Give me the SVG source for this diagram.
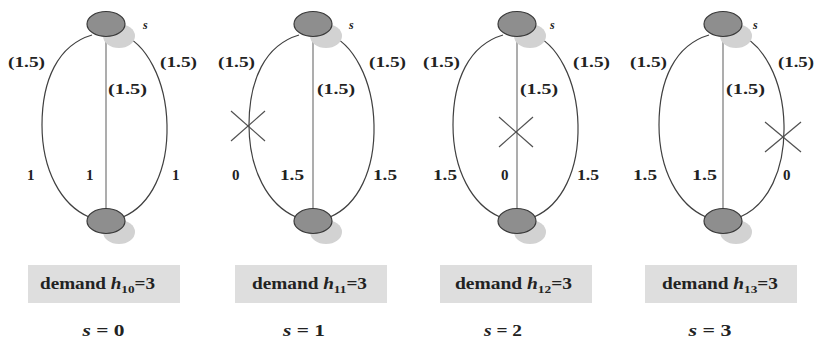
<svg xmlns="http://www.w3.org/2000/svg" width="817" height="339" viewBox="0 0 817 339">
<style>
.arc{fill:none;stroke:#404040;stroke-width:1.2}
.mid{fill:none;stroke:#8a8a8a;stroke-width:1.4}
.x{stroke:#505050;stroke-width:1.2}
.nd{fill:#8e8e8e;stroke:#3a3a3a;stroke-width:1.2}
.sh{fill:#d2d2d2}
.box{fill:#dedede}
text{font-family:"Liberation Serif","Times New Roman",Times,serif;font-weight:700;fill:#222}
.lb{font-size:15px}
.bt{font-size:16px}
.it{font-style:italic}
.sub{font-size:11px}
</style>
<defs>
<path id="larc" d="M -14,35 C -48,45 -64,80 -64,125 C -64,170 -45,205 -17,217"/>
<path id="rarc" d="M 14,34 C 40,42 60,80 61,125 C 62,170 45,205 17,217"/>
</defs>

<g id="connectors">
<g transform="translate(106,0)"><use href="#larc" class="arc"/><use href="#rarc" class="arc"/><line class="mid" x1="0" y1="36" x2="0" y2="208"/></g>
<g transform="translate(313,0)"><use href="#larc" class="arc"/><use href="#rarc" class="arc"/><line class="mid" x1="0" y1="36" x2="0" y2="208"/></g>
<g transform="translate(517,0)"><use href="#larc" class="arc"/><use href="#rarc" class="arc"/><line class="mid" x1="0" y1="36" x2="0" y2="208"/></g>
<g transform="translate(723,0)"><use href="#larc" class="arc"/><use href="#rarc" class="arc"/><line class="mid" x1="0" y1="36" x2="0" y2="208"/></g>
</g>

<g id="cuts">
<line class="x" x1="231" y1="111" x2="265" y2="141"/><line class="x" x1="231" y1="141" x2="265" y2="111"/>
<line class="x" x1="499" y1="117" x2="533" y2="147"/><line class="x" x1="499" y1="147" x2="533" y2="117"/>
<line class="x" x1="765" y1="122" x2="801" y2="152"/><line class="x" x1="765" y1="152" x2="801" y2="122"/>
</g>

<g id="shadows">
<g transform="translate(106,0)"><ellipse class="sh" cx="13" cy="36" rx="16" ry="12"/><ellipse class="sh" cx="13" cy="232" rx="16" ry="12"/></g>
<g transform="translate(313,0)"><ellipse class="sh" cx="13" cy="36" rx="16" ry="12"/><ellipse class="sh" cx="13" cy="232" rx="16" ry="12"/></g>
<g transform="translate(517,0)"><ellipse class="sh" cx="13" cy="36" rx="16" ry="12"/><ellipse class="sh" cx="13" cy="232" rx="16" ry="12"/></g>
<g transform="translate(723,0)"><ellipse class="sh" cx="13" cy="36" rx="16" ry="12"/><ellipse class="sh" cx="13" cy="232" rx="16" ry="12"/></g>
</g>

<g id="n0-top"><ellipse class="nd" cx="106" cy="24" rx="19" ry="12.5"/></g>
<g id="n0-bot"><ellipse class="nd" cx="106" cy="221" rx="19" ry="12.5"/></g>
<g id="n1-top"><ellipse class="nd" cx="313" cy="24" rx="19" ry="12.5"/></g>
<g id="n1-bot"><ellipse class="nd" cx="313" cy="221" rx="19" ry="12.5"/></g>
<g id="n2-top"><ellipse class="nd" cx="517" cy="24" rx="19" ry="12.5"/></g>
<g id="n2-bot"><ellipse class="nd" cx="517" cy="221" rx="19" ry="12.5"/></g>
<g id="n3-top"><ellipse class="nd" cx="723" cy="24" rx="19" ry="12.5"/></g>
<g id="n3-bot"><ellipse class="nd" cx="723" cy="221" rx="19" ry="12.5"/></g>

<g id="labels">
<text class="lb" x="8" y="67" textLength="37" lengthAdjust="spacingAndGlyphs">(1.5)</text>
<text class="lb" x="160" y="67" textLength="37" lengthAdjust="spacingAndGlyphs">(1.5)</text>
<text class="lb" x="108" y="94" textLength="39" lengthAdjust="spacingAndGlyphs">(1.5)</text>
<text class="lb" x="27" y="180">1</text>
<text class="lb" x="86" y="180">1</text>
<text class="lb" x="172" y="180">1</text>
<text class="lb it" x="143" y="29" style="font-size:12px">s</text>

<text class="lb" x="218" y="67" textLength="37" lengthAdjust="spacingAndGlyphs">(1.5)</text>
<text class="lb" x="369" y="67" textLength="37" lengthAdjust="spacingAndGlyphs">(1.5)</text>
<text class="lb" x="317" y="94" textLength="38" lengthAdjust="spacingAndGlyphs">(1.5)</text>
<text class="lb" x="232" y="180">0</text>
<text class="lb" x="280" y="180" textLength="24" lengthAdjust="spacingAndGlyphs">1.5</text>
<text class="lb" x="373" y="180" textLength="24" lengthAdjust="spacingAndGlyphs">1.5</text>
<text class="lb it" x="349" y="29" style="font-size:12px">s</text>

<text class="lb" x="423" y="67" textLength="37" lengthAdjust="spacingAndGlyphs">(1.5)</text>
<text class="lb" x="573" y="67" textLength="37" lengthAdjust="spacingAndGlyphs">(1.5)</text>
<text class="lb" x="520" y="94" textLength="38" lengthAdjust="spacingAndGlyphs">(1.5)</text>
<text class="lb" x="433" y="180" textLength="24" lengthAdjust="spacingAndGlyphs">1.5</text>
<text class="lb" x="501" y="180">0</text>
<text class="lb" x="577" y="180" textLength="22" lengthAdjust="spacingAndGlyphs">1.5</text>
<text class="lb it" x="550" y="29" style="font-size:12px">s</text>

<text class="lb" x="630" y="67" textLength="37" lengthAdjust="spacingAndGlyphs">(1.5)</text>
<text class="lb" x="778" y="67" textLength="36" lengthAdjust="spacingAndGlyphs">(1.5)</text>
<text class="lb" x="726" y="94" textLength="39" lengthAdjust="spacingAndGlyphs">(1.5)</text>
<text class="lb" x="633" y="180" textLength="24" lengthAdjust="spacingAndGlyphs">1.5</text>
<text class="lb" x="692" y="180" textLength="25" lengthAdjust="spacingAndGlyphs">1.5</text>
<text class="lb" x="783" y="180">0</text>
<text class="lb it" x="753" y="29" style="font-size:12px">s</text>
</g>

<g id="demand0"><rect class="box" x="28" y="265" width="152" height="38"/>
<text class="bt" x="40" y="289" textLength="115" lengthAdjust="spacingAndGlyphs">demand <tspan class="it">h</tspan><tspan class="sub" dy="4">10</tspan><tspan dy="-4">=3</tspan></text></g>
<g id="demand1"><rect class="box" x="235" y="265" width="152" height="38"/>
<text class="bt" x="252" y="289" textLength="115" lengthAdjust="spacingAndGlyphs">demand <tspan class="it">h</tspan><tspan class="sub" dy="4">11</tspan><tspan dy="-4">=3</tspan></text></g>
<g id="demand2"><rect class="box" x="440" y="265" width="152" height="38"/>
<text class="bt" x="455" y="289" textLength="117" lengthAdjust="spacingAndGlyphs">demand <tspan class="it">h</tspan><tspan class="sub" dy="4">12</tspan><tspan dy="-4">=3</tspan></text></g>
<g id="demand3"><rect class="box" x="645" y="265" width="152" height="38"/>
<text class="bt" x="662" y="289" textLength="116" lengthAdjust="spacingAndGlyphs">demand <tspan class="it">h</tspan><tspan class="sub" dy="4">13</tspan><tspan dy="-4">=3</tspan></text></g>

<g id="states">
<text class="bt" x="103.5" y="336" text-anchor="middle" textLength="42" lengthAdjust="spacingAndGlyphs"><tspan class="it">s</tspan> = 0</text>
<text class="bt" x="304" y="336" text-anchor="middle" textLength="42" lengthAdjust="spacingAndGlyphs"><tspan class="it">s</tspan> = 1</text>
<text class="bt" x="503" y="336" text-anchor="middle" textLength="38" lengthAdjust="spacingAndGlyphs"><tspan class="it">s</tspan> = 2</text>
<text class="bt" x="710" y="336" text-anchor="middle" textLength="43" lengthAdjust="spacingAndGlyphs"><tspan class="it">s</tspan> = 3</text>
</g>
</svg>
